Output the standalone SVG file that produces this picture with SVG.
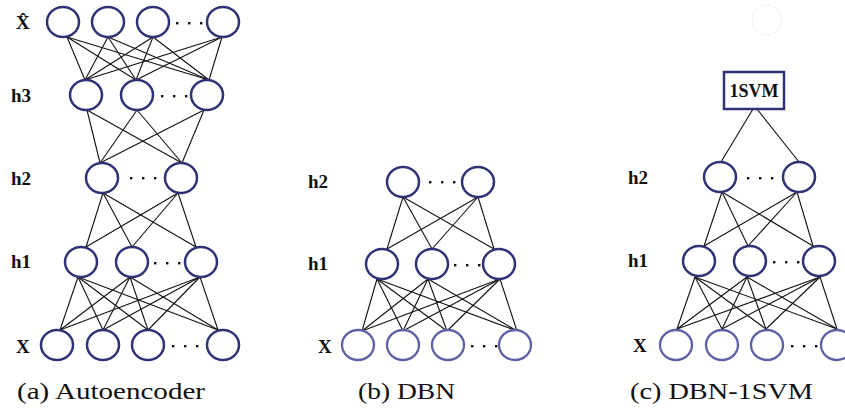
<svg xmlns="http://www.w3.org/2000/svg" width="845" height="412" viewBox="0 0 845 412">
<style>
.n{fill:#fff;stroke:#2f3376;stroke-width:2.5}
.nl{fill:#fff;stroke:#5d61a3;stroke-width:2.3}
.e line{stroke:#111;stroke-width:1.1}
.lbl{font-family:"Liberation Serif",serif;font-weight:bold;font-size:19px;fill:#111}
.cap{font-family:"Liberation Serif",serif;font-size:23px;fill:#111}
.d{fill:#111}
</style>
<circle cx="767" cy="20" r="15" fill="none" stroke="#fdeff0" stroke-width="1"/>
<g id="connectors" class="e">
<!-- (a) Xhat to h3 -->
<line x1="67" y1="37" x2="85" y2="80"/><line x1="67" y1="37" x2="136" y2="80"/><line x1="67" y1="37" x2="209" y2="80"/>
<line x1="108" y1="37" x2="85" y2="80"/><line x1="108" y1="37" x2="136" y2="80"/><line x1="108" y1="37" x2="209" y2="80"/>
<line x1="153" y1="37" x2="85" y2="80"/><line x1="153" y1="37" x2="136" y2="80"/><line x1="153" y1="37" x2="209" y2="80"/>
<line x1="222" y1="37" x2="85" y2="80"/><line x1="222" y1="37" x2="136" y2="80"/><line x1="222" y1="37" x2="209" y2="80"/>
<!-- (a) h3 to h2 -->
<line x1="87" y1="110" x2="100" y2="163"/><line x1="87" y1="110" x2="182" y2="163"/>
<line x1="137" y1="110" x2="100" y2="163"/><line x1="137" y1="110" x2="182" y2="163"/>
<line x1="204" y1="110" x2="100" y2="163"/><line x1="204" y1="110" x2="182" y2="163"/>
<!-- (a) h2 to h1 -->
<line x1="103" y1="193" x2="86" y2="247"/><line x1="103" y1="193" x2="132" y2="247"/><line x1="103" y1="193" x2="196" y2="247"/>
<line x1="178" y1="193" x2="86" y2="247"/><line x1="178" y1="193" x2="132" y2="247"/><line x1="178" y1="193" x2="196" y2="247"/>
<!-- (a) h1 to X -->
<line x1="78" y1="277" x2="60" y2="330"/><line x1="78" y1="277" x2="103" y2="330"/><line x1="78" y1="277" x2="148" y2="330"/><line x1="78" y1="277" x2="218" y2="330"/>
<line x1="130" y1="277" x2="60" y2="330"/><line x1="130" y1="277" x2="103" y2="330"/><line x1="130" y1="277" x2="148" y2="330"/><line x1="130" y1="277" x2="218" y2="330"/>
<line x1="200" y1="277" x2="60" y2="330"/><line x1="200" y1="277" x2="103" y2="330"/><line x1="200" y1="277" x2="148" y2="330"/><line x1="200" y1="277" x2="218" y2="330"/>
<!-- (b) h2 to h1 -->
<line x1="403" y1="197" x2="387" y2="249"/><line x1="403" y1="197" x2="432" y2="249"/><line x1="403" y1="197" x2="494" y2="249"/>
<line x1="478" y1="197" x2="387" y2="249"/><line x1="478" y1="197" x2="432" y2="249"/><line x1="478" y1="197" x2="494" y2="249"/>
<!-- (b) h1 to X -->
<line x1="377" y1="279" x2="362" y2="331"/><line x1="377" y1="279" x2="403" y2="331"/><line x1="377" y1="279" x2="447" y2="331"/><line x1="377" y1="279" x2="517" y2="331"/>
<line x1="428" y1="279" x2="362" y2="331"/><line x1="428" y1="279" x2="403" y2="331"/><line x1="428" y1="279" x2="447" y2="331"/><line x1="428" y1="279" x2="517" y2="331"/>
<line x1="500" y1="279" x2="362" y2="331"/><line x1="500" y1="279" x2="403" y2="331"/><line x1="500" y1="279" x2="447" y2="331"/><line x1="500" y1="279" x2="517" y2="331"/>
<!-- (c) 1SVM to h2 -->
<line x1="753" y1="109" x2="721" y2="162"/><line x1="757" y1="109" x2="799" y2="162"/>
<!-- (c) h2 to h1 -->
<line x1="722" y1="192" x2="704" y2="246"/><line x1="722" y1="192" x2="748" y2="246"/><line x1="722" y1="192" x2="813" y2="246"/>
<line x1="797" y1="192" x2="704" y2="246"/><line x1="797" y1="192" x2="748" y2="246"/><line x1="797" y1="192" x2="813" y2="246"/>
<!-- (c) h1 to X -->
<line x1="695" y1="277" x2="677" y2="329"/><line x1="695" y1="277" x2="722" y2="329"/><line x1="695" y1="277" x2="766" y2="329"/><line x1="695" y1="277" x2="837" y2="329"/>
<line x1="747" y1="277" x2="677" y2="329"/><line x1="747" y1="277" x2="722" y2="329"/><line x1="747" y1="277" x2="766" y2="329"/><line x1="747" y1="277" x2="837" y2="329"/>
<line x1="820" y1="277" x2="677" y2="329"/><line x1="820" y1="277" x2="722" y2="329"/><line x1="820" y1="277" x2="766" y2="329"/><line x1="820" y1="277" x2="837" y2="329"/>
</g>
<!-- Panel (a) -->
<g id="a-xhat">
<ellipse class="n" cx="63" cy="22" rx="16" ry="15"/><ellipse class="n" cx="108" cy="22" rx="16" ry="15"/><ellipse class="n" cx="153" cy="22" rx="16" ry="15"/><ellipse class="n" cx="223" cy="22" rx="16" ry="15"/>
<rect class="d" x="176" y="22" width="2.4" height="2.4"/><rect class="d" x="188" y="22" width="2.4" height="2.4"/><rect class="d" x="200" y="22" width="2.4" height="2.4"/>
<text class="lbl" x="16" y="29">X&#x302;</text>
</g>
<g id="a-h3">
<ellipse class="n" cx="86" cy="95" rx="16" ry="15"/><ellipse class="n" cx="137" cy="95" rx="16" ry="15"/><ellipse class="n" cx="207" cy="95" rx="16" ry="15"/>
<rect class="d" x="161" y="95" width="2.4" height="2.4"/><rect class="d" x="173" y="95" width="2.4" height="2.4"/><rect class="d" x="185" y="95" width="2.4" height="2.4"/>
<text class="lbl" x="11" y="102">h3</text>
</g>
<g id="a-h2">
<ellipse class="n" cx="102" cy="178" rx="16" ry="15"/><ellipse class="n" cx="181" cy="178" rx="16" ry="15"/>
<rect class="d" x="130" y="177" width="2.4" height="2.4"/><rect class="d" x="142" y="177" width="2.4" height="2.4"/><rect class="d" x="154" y="177" width="2.4" height="2.4"/>
<text class="lbl" x="11" y="185">h2</text>
</g>
<g id="a-h1">
<ellipse class="n" cx="81" cy="262" rx="16" ry="15"/><ellipse class="n" cx="132" cy="262" rx="16" ry="15"/><ellipse class="n" cx="201" cy="262" rx="16" ry="15"/>
<rect class="d" x="154" y="262" width="2.4" height="2.4"/><rect class="d" x="166" y="262" width="2.4" height="2.4"/><rect class="d" x="178" y="262" width="2.4" height="2.4"/>
<text class="lbl" x="11" y="268">h1</text>
</g>
<g id="a-x">
<ellipse class="n" cx="57" cy="345" rx="16" ry="15"/><ellipse class="n" cx="103" cy="345" rx="16" ry="15"/><ellipse class="n" cx="148" cy="345" rx="16" ry="15"/><ellipse class="n" cx="223" cy="345" rx="16" ry="15"/>
<rect class="d" x="172" y="345" width="2.4" height="2.4"/><rect class="d" x="184" y="345" width="2.4" height="2.4"/><rect class="d" x="196" y="345" width="2.4" height="2.4"/>
<text class="lbl" x="16" y="353">X</text>
</g>
<text class="cap" x="17" y="399" textLength="188" lengthAdjust="spacingAndGlyphs">(a)  Autoencoder</text>
<!-- Panel (b) -->
<g id="b-h2">
<ellipse class="n" cx="403" cy="182" rx="16" ry="15"/><ellipse class="n" cx="478" cy="182" rx="16" ry="15"/>
<rect class="d" x="429" y="181" width="2.4" height="2.4"/><rect class="d" x="441" y="181" width="2.4" height="2.4"/><rect class="d" x="453" y="181" width="2.4" height="2.4"/>
<text class="lbl" x="308" y="188">h2</text>
</g>
<g id="b-h1">
<ellipse class="n" cx="382" cy="264" rx="16" ry="15"/><ellipse class="n" cx="432" cy="264" rx="16" ry="15"/><ellipse class="n" cx="499" cy="264" rx="16" ry="15"/>
<rect class="d" x="454" y="264" width="2.4" height="2.4"/><rect class="d" x="466" y="264" width="2.4" height="2.4"/><rect class="d" x="478" y="264" width="2.4" height="2.4"/>
<text class="lbl" x="308" y="270">h1</text>
</g>
<g id="b-x">
<ellipse class="nl" cx="358" cy="345" rx="16" ry="15"/><ellipse class="nl" cx="403" cy="345" rx="16" ry="15"/><ellipse class="nl" cx="448" cy="345" rx="16" ry="15"/><ellipse class="nl" cx="515" cy="345" rx="16" ry="15"/>
<rect class="d" x="471" y="345" width="2.4" height="2.4"/><rect class="d" x="483" y="345" width="2.4" height="2.4"/><rect class="d" x="495" y="345" width="2.4" height="2.4"/>
<text class="lbl" x="318" y="353">X</text>
</g>
<text class="cap" x="358" y="399" textLength="97" lengthAdjust="spacingAndGlyphs">(b)  DBN</text>
<!-- Panel (c) -->
<g id="c-1svm">
<rect x="724" y="72" width="60" height="37" fill="#fff" stroke="#2f3376" stroke-width="2.5"/>
<text class="lbl" x="754" y="97" text-anchor="middle" style="font-size:18px">1SVM</text>
</g>
<g id="c-h2">
<ellipse class="n" cx="720" cy="177" rx="16" ry="15"/><ellipse class="n" cx="799" cy="177" rx="16" ry="15"/>
<rect class="d" x="747" y="177" width="2.4" height="2.4"/><rect class="d" x="759" y="177" width="2.4" height="2.4"/><rect class="d" x="771" y="177" width="2.4" height="2.4"/>
<text class="lbl" x="628" y="184">h2</text>
</g>
<g id="c-h1">
<ellipse class="n" cx="699" cy="261" rx="16" ry="15"/><ellipse class="n" cx="750" cy="261" rx="16" ry="15"/><ellipse class="n" cx="819" cy="261" rx="16" ry="15"/>
<rect class="d" x="773" y="261" width="2.4" height="2.4"/><rect class="d" x="785" y="261" width="2.4" height="2.4"/><rect class="d" x="797" y="261" width="2.4" height="2.4"/>
<text class="lbl" x="628" y="267">h1</text>
</g>
<g id="c-x">
<ellipse class="nl" cx="676" cy="345" rx="16" ry="15"/><ellipse class="nl" cx="722" cy="345" rx="16" ry="15"/><ellipse class="nl" cx="767" cy="345" rx="16" ry="15"/><ellipse class="nl" cx="837" cy="345" rx="16" ry="15"/>
<rect class="d" x="791" y="345" width="2.4" height="2.4"/><rect class="d" x="803" y="345" width="2.4" height="2.4"/><rect class="d" x="815" y="345" width="2.4" height="2.4"/>
<text class="lbl" x="633" y="352">X</text>
</g>
<text class="cap" x="630" y="399" textLength="183" lengthAdjust="spacingAndGlyphs">(c)  DBN-1SVM</text>
</svg>
